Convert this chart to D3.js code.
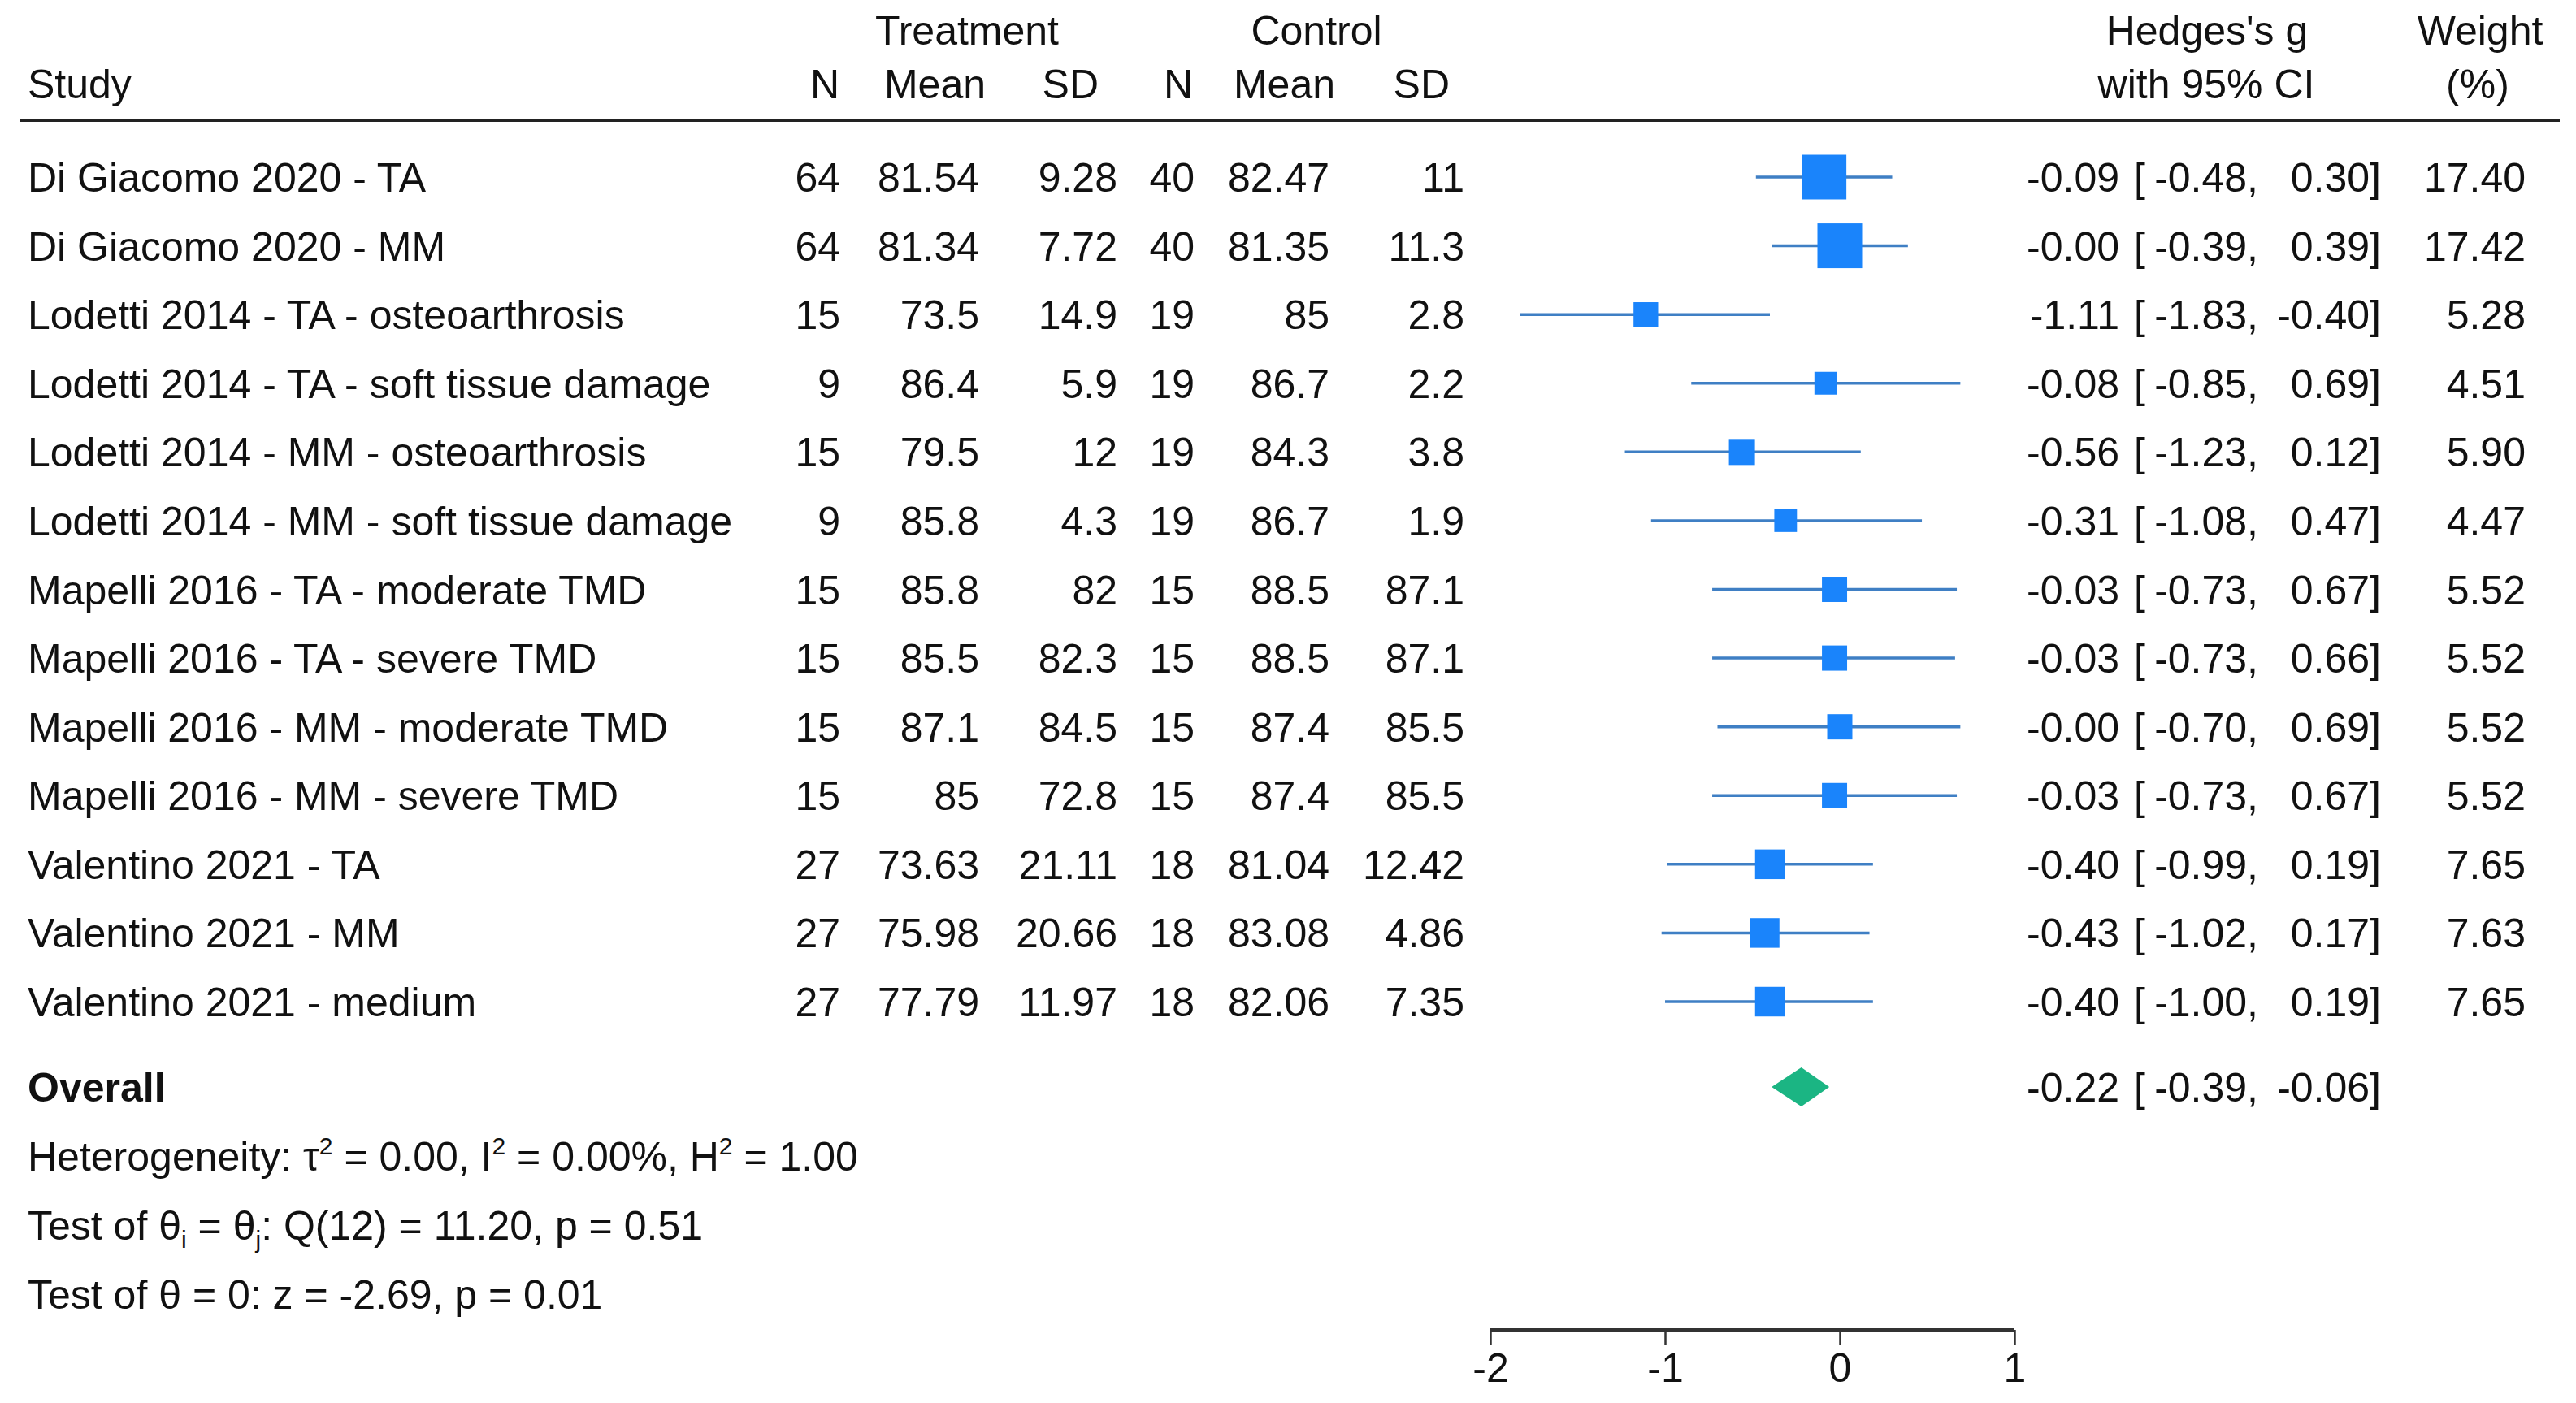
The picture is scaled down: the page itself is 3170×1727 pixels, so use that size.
<!DOCTYPE html>
<html>
<head>
<meta charset="utf-8">
<script src="https://cdn.jsdelivr.net/npm/d3@7"></script>
<style>
  html, body { margin: 0; padding: 0; background: #fff; }
  svg text { font-family: "Liberation Sans", Arial, Helvetica, sans-serif; fill: #111; }
</style>
</head>
<body>
<svg id="chart" width="3170" height="1727"></svg>
<script>
// ---------- DATA ----------
const studies = [
  "Di Giacomo 2020 - TA",
  "Di Giacomo 2020 - MM",
  "Lodetti 2014 - TA - osteoarthrosis",
  "Lodetti 2014 - TA - soft tissue damage",
  "Lodetti 2014 - MM - osteoarthrosis",
  "Lodetti 2014 - MM - soft tissue damage",
  "Mapelli 2016 - TA - moderate TMD",
  "Mapelli 2016 - TA - severe TMD",
  "Mapelli 2016 - MM - moderate TMD",
  "Mapelli 2016 - MM - severe TMD",
  "Valentino 2021 - TA",
  "Valentino 2021 - MM",
  "Valentino 2021 - medium"
];
const treatN    = [64, 64, 15, 9, 15, 9, 15, 15, 15, 15, 27, 27, 27];
const treatMean = [81.54, 81.34, 73.5, 86.4, 79.5, 85.8, 85.8, 85.5, 87.1, 85, 73.63, 75.98, 77.79];
const treatSD   = [9.28, 7.72, 14.9, 5.9, 12, 4.3, 82, 82.3, 84.5, 72.8, 21.11, 20.66, 11.97];
const ctrlN     = [40, 40, 19, 19, 19, 19, 15, 15, 15, 15, 18, 18, 18];
const ctrlMean  = [82.47, 81.35, 85, 86.7, 84.3, 86.7, 88.5, 88.5, 87.4, 87.4, 81.04, 83.08, 82.06];
const ctrlSD    = [11, 11.3, 2.8, 2.2, 3.8, 1.9, 87.1, 87.1, 85.5, 85.5, 12.42, 4.86, 7.35];
const effect    = [-0.09, -0, -1.11, -0.08, -0.56, -0.31, -0.03, -0.03, -0, -0.03, -0.40, -0.43, -0.40];
const ciLow     = [-0.48, -0.39, -1.83, -0.85, -1.23, -1.08, -0.73, -0.73, -0.70, -0.73, -0.99, -1.02, -1.00];
const ciHigh    = [0.30, 0.39, -0.40, 0.69, 0.12, 0.47, 0.67, 0.66, 0.69, 0.67, 0.19, 0.17, 0.19];
const weights   = [17.40, 17.42, 5.28, 4.51, 5.90, 4.47, 5.52, 5.52, 5.52, 5.52, 7.65, 7.63, 7.65];
const overall   = { est: -0.22, lo: -0.39, hi: -0.06 };
const hetero    = { tau2: "0.00", I2: "0.00%", H2: "1.00" };
const qTest     = { df: 12, Q: "11.20", p: "0.51" };
const zTest     = { z: "-2.69", p: "0.01" };
const axisTicks = [-2, -1, 0, 1];

// ---------- LAYOUT ----------
const svg = d3.select("#chart");
const FS = 50;
const dyC = "0.36em";
const x = d3.scaleLinear().domain([-2, 1]).range([1834, 2479]);
const y = d3.scaleLinear().domain([0, studies.length - 1]).range([218, 1233]);
const size = d3.scaleSqrt().domain([0, 17.42]).range([0, 55]);
const yOverall = 1338, yInfo = [1423, 1508, 1593];
const yAxis = 1637;

const fmt = v => ((v < 0 || Object.is(v, -0)) ? "-" : "") + Math.abs(v).toFixed(2);

function txt(g, xx, yy, s, anchor, extra) {
  const t = g.append("text").attr("x", xx).attr("y", yy).attr("dy", dyC)
    .attr("font-size", FS).attr("text-anchor", anchor || "start").text(s);
  if (extra) extra(t);
  return t;
}

// Header
const hdr = svg.append("g");
txt(hdr, 1190, 37, "Treatment", "middle");
txt(hdr, 1620, 37, "Control", "middle");
txt(hdr, 2716, 37, "Hedges's g", "middle");
txt(hdr, 3052, 37, "Weight", "middle");
txt(hdr, 34, 103, "Study", "start");
txt(hdr, 1033, 103, "N", "end");
txt(hdr, 1213, 103, "Mean", "end");
txt(hdr, 1352, 103, "SD", "end");
txt(hdr, 1468, 103, "N", "end");
txt(hdr, 1643, 103, "Mean", "end");
txt(hdr, 1784, 103, "SD", "end");
txt(hdr, 2715, 103, "with 95% CI", "middle");
txt(hdr, 3049, 103, "(%)", "middle");
hdr.append("line").attr("x1", 24).attr("x2", 3150).attr("y1", 148).attr("y2", 148)
  .attr("stroke", "#222").attr("stroke-width", 4);

// Table columns
const cols = [
  { arr: treatN, x: 1034 },
  { arr: treatMean, x: 1205 },
  { arr: treatSD, x: 1375 },
  { arr: ctrlN, x: 1470 },
  { arr: ctrlMean, x: 1636 },
  { arr: ctrlSD, x: 1802 }
];
const rows = svg.append("g").selectAll("g").data(studies).join("g");
rows.append("text").attr("x", 34).attr("y", (d, i) => y(i)).attr("dy", dyC)
  .attr("font-size", FS).text(d => d);
cols.forEach(c => {
  rows.append("text").attr("x", c.x).attr("y", (d, i) => y(i)).attr("dy", dyC)
    .attr("font-size", FS).attr("text-anchor", "end").text((d, i) => String(c.arr[i]));
});

// CI text
function ciText(g, yy, est, lo, hi, w) {
  txt(g, 2608, yy, fmt(est), "end");
  txt(g, 2626, yy, "[", "start");
  txt(g, 2779, yy, fmt(lo) + ",", "end");
  txt(g, 2930, yy, fmt(hi) + "]", "end");
  if (w !== undefined) txt(g, 3108, yy, w.toFixed(2), "end");
}
studies.forEach((s, i) => ciText(svg, y(i), effect[i], ciLow[i], ciHigh[i], weights[i]));

// CI lines and squares
const marks = svg.append("g");
marks.selectAll("line.ci").data(studies).join("line").attr("class", "ci")
  .attr("x1", (d, i) => x(ciLow[i])).attr("x2", (d, i) => x(ciHigh[i]))
  .attr("y1", (d, i) => y(i)).attr("y2", (d, i) => y(i))
  .attr("stroke", "#3f7fc4").attr("stroke-width", 3.5);
marks.selectAll("rect.sq").data(studies).join("rect").attr("class", "sq")
  .attr("x", (d, i) => x(effect[i]) - size(weights[i]) / 2)
  .attr("y", (d, i) => y(i) - size(weights[i]) / 2)
  .attr("width", (d, i) => size(weights[i]))
  .attr("height", (d, i) => size(weights[i]))
  .attr("fill", "#1a84fb");

// Overall
txt(svg, 34, yOverall, "Overall", "start", t => t.attr("font-weight", "bold"));
ciText(svg, yOverall, overall.est, overall.lo, overall.hi);
const dh = 24;
svg.append("path")
  .attr("d", `M${x(overall.lo)},${yOverall} L${x(overall.est)},${yOverall - dh} L${x(overall.hi)},${yOverall} L${x(overall.est)},${yOverall + dh} Z`)
  .attr("fill", "#1bb583");

// Info lines (super/subscripts via dy shifts; the shift is undone on the following tspan)
const SUP = 30;
function richLine(yy, parts) {
  const t = svg.append("text").attr("x", 34).attr("y", yy + 0.36 * FS).attr("font-size", FS);
  let pending = 0;
  parts.forEach(p => {
    if (typeof p === "string") {
      t.append("tspan").attr("font-size", FS).attr("dy", pending).text(p);
      pending = 0;
    } else {
      t.append("tspan").attr("font-size", SUP).attr("dy", p.dy + pending).text(p.s);
      pending = -p.dy;
    }
  });
}
richLine(yInfo[0], ["Heterogeneity: τ", { s: "2", dy: -20 }, ` = ${hetero.tau2}, I`, { s: "2", dy: -20 },
  ` = ${hetero.I2}, H`, { s: "2", dy: -20 }, ` = ${hetero.H2}`]);
richLine(yInfo[1], ["Test of θ", { s: "i", dy: 10 }, " = θ", { s: "j", dy: 10 },
  `: Q(${qTest.df}) = ${qTest.Q}, p = ${qTest.p}`]);
richLine(yInfo[2], [`Test of θ = 0: z = ${zTest.z}, p = ${zTest.p}`]);

// Axis
const axis = d3.axisBottom(x).tickValues(axisTicks).tickSize(18).tickPadding(10)
  .tickFormat(d3.format("d"));
const ag = svg.append("g").attr("transform", `translate(0,${yAxis})`).call(axis);
ag.select(".domain").attr("stroke", "#333").attr("stroke-width", 4)
  .attr("d", `M${x(-2)},0H${x(1)}`);
ag.selectAll(".tick line").attr("stroke", "#333").attr("stroke-width", 2.5);
ag.selectAll(".tick text").attr("font-size", FS).attr("fill", "#111")
  .attr("font-family", '"Liberation Sans", Arial, sans-serif')
  .text(d => d < 0 ? "-" + Math.abs(d) : String(d));
</script>
</body>
</html>
